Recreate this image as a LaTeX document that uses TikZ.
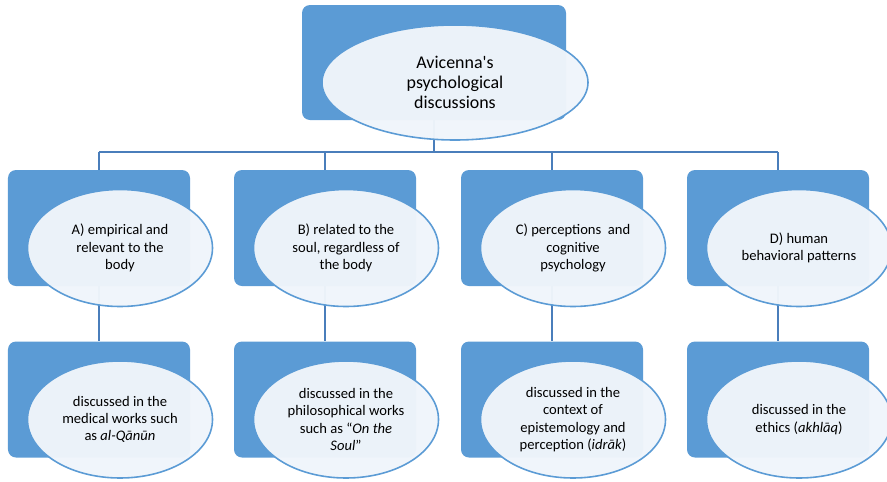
\documentclass[tikz,border=0pt]{standalone}
\usepackage{fontspec}
\setmainfont{Carlito}
\usetikzlibrary{shapes.geometric}
\definecolor{boxblue}{HTML}{5B9BD5}
\definecolor{lineblue}{HTML}{4A7EBB}
\definecolor{ovalfill}{HTML}{F0F5FB}
\tikzset{
  box/.style={fill=boxblue, rounded corners=1.6mm, minimum width=36.4mm, minimum height=23.2mm, inner sep=0pt},
  topbox/.style={box, minimum width=52.8mm, minimum height=23mm},
  oval/.style={ellipse, draw=boxblue, line width=0.9pt, fill=ovalfill, fill opacity=0.97, text opacity=1,
    minimum width=37mm, minimum height=23.4mm, inner sep=0pt, align=center, font=\fontsize{8.3}{9.8}\selectfont},
  topoval/.style={oval, minimum width=53.2mm, minimum height=23mm, font=\fontsize{10.2}{11.6}\selectfont},
  conn/.style={draw=lineblue, line width=1pt}
}
\begin{document}
\begin{tikzpicture}[x=0.2mm,y=-0.2mm]
	\useasboundingbox (0,0) rectangle (887,481);
	% blue boxes
	\node[topbox] (root) at (434,62.5) {};
	\node[box] (catA) at (99,228) {};
	\node[box] (catB) at (325,228) {};
	\node[box] (catC) at (552,228) {};
	\node[box] (catD) at (778,228) {};
	\node[box] (workA) at (99,399.5) {};
	\node[box] (workB) at (325,399.5) {};
	\node[box] (workC) at (552,399.5) {};
	\node[box] (workD) at (778,399.5) {};
	% connectors
	\coordinate (bus) at (434,152);
	\draw[conn] (root.south) -- (root.south |- bus);
	\draw[conn] (catA.north |- bus) -- (catD.north |- bus);
	\foreach \c in {catA,catB,catC,catD}
		\draw[conn] (\c.north |- bus) -- (\c.north);
	\draw[conn] (catA.south) -- (workA.north);
	\draw[conn] (catB.south) -- (workB.north);
	\draw[conn] (catC.south) -- (workC.north);
	\draw[conn] (catD.south) -- (workD.north);
	% ovals with the texts
	\node[topoval] (rootlbl) at (455,82.5) {Avicenna\textquotesingle s\\psychological\\discussions};
	\node[oval] (catAlbl) at (120,248) {A) empirical and\\relevant to the\\body};
	\node[oval] (catBlbl) at (346,248) {B) related to the\\soul, regardless of\\the body};
	\node[oval] (catClbl) at (573,248) {C) perceptions\ \ and\\cognitive\\psychology};
	\node[oval] (catDlbl) at (799,248) {D) human\\behavioral patterns};
	\node[oval] (workAlbl) at (120,419.5) {discussed in the\\medical works such\\as \textit{al-Qānūn}};
	\node[oval] (workBlbl) at (346,419.5) {discussed in the\\philosophical works\\such as “\textit{On the}\\\textit{Soul}”};
	\node[oval] (workClbl) at (573,419.5) {discussed in the\\context of\\epistemology and\\perception (\textit{idrāk})};
	\node[oval] (workDlbl) at (799,419.5) {discussed in the\\ethics (\textit{akhlāq})};
\end{tikzpicture}
\end{document}
